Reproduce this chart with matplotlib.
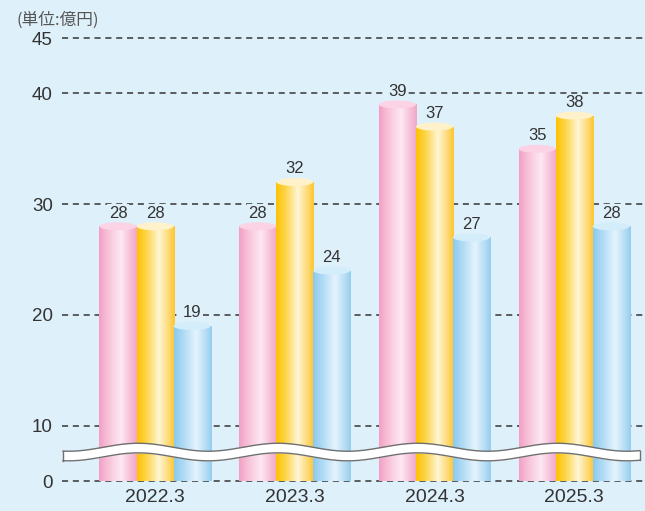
import numpy as np
import matplotlib
matplotlib.use("Agg")
import matplotlib.pyplot as plt
from matplotlib.patches import Ellipse
from matplotlib.colors import to_rgb

# data
years = ["2022.3", "2023.3", "2024.3", "2025.3"]
series_a = [28, 28, 39, 35]   # pink
series_b = [28, 32, 37, 38]   # yellow
series_c = [19, 24, 27, 28]   # blue
tick_vals = [0, 10, 20, 30, 40, 45]
unit_text = "(単位:億円)"

# the "0" line sits at 5 because of the axis break
base = 5
def pos(v):
    return base if v == 0 else v

bg = "#def0fa"
text_col = "#333333"
plt.rcParams['font.family'] = ['Liberation Sans', 'Noto Sans CJK JP', 'DejaVu Sans']
plt.rcParams['lines.scale_dashes'] = False

# colour stops (left edge, highlight, right edge) and top face
styles = [
    (["#f2a0c4", "#f8c3da", "#fde9f2", "#f6bcd6", "#f2a8c8"], "#fbd3e4"),
    (["#fcc200", "#fdd44a", "#fff6d4", "#fed770", "#fcc62a"], "#fff1c9"),
    (["#8ac9ee", "#b0dbf4", "#e4f4fd", "#b5dcf4", "#94cdef"], "#d4edfb"),
]

fig = plt.figure(figsize=(6.45, 5.11), dpi=100, facecolor=bg)
ax = fig.add_axes([0.0961, 0.0434, 0.9039, 0.9147])
ax.set_facecolor(bg)
ax.set_xlim(-0.666, 3.507)
ax.set_ylim(4.3, 46.5)

for v in tick_vals:
    ax.axhline(pos(v), color="#444444", lw=1.2, dashes=(4.4, 3.4), zorder=1)

x = np.arange(len(years))
w = 0.265
px_per_unit = 11.075

def make_grad(stops):
    cols = np.array([to_rgb(c) for c in stops])
    t = np.linspace(0, 1, 200)
    st = np.array([0, 0.25, 0.58, 0.85, 1.0])
    arr = np.stack([np.interp(t, st, cols[:, k]) for k in range(3)], axis=-1)
    return arr[np.newaxis, :, :]

for k, vals in enumerate([series_a, series_b, series_c]):
    stops, top_col = styles[k]
    grad = make_grad(stops)
    xs = x + (k - 1) * w
    heights = [v - base for v in vals]
    bars = ax.bar(xs, heights, width=w, bottom=base, color="none", edgecolor="none", zorder=2)
    for bar, v in zip(bars, vals):
        x0 = bar.get_x()
        im = ax.imshow(grad, extent=(x0, x0 + bar.get_width(), base, v), aspect="auto",
                       interpolation="bilinear", zorder=2)
        im.set_clip_path(bar)
        ax.add_patch(Ellipse((x0 + bar.get_width() / 2, v), bar.get_width(), 8 / px_per_unit,
                             facecolor=top_col, edgecolor="none", zorder=3))
        ax.annotate(str(v), (x0 + bar.get_width() / 2, v), xytext=(0, 9.5),
                    textcoords="offset points", ha="center", va="center",
                    fontsize=12, color=text_col, zorder=5,
                    bbox=dict(boxstyle="square,pad=0.08", fc=bg, ec="none"))

# axis-break wave band
wx = np.linspace(-0.659, 3.47, 600)
yc = base + 2.62 + 0.36 * np.cos(2 * np.pi * (wx + 0.12))
half = 4.8 / px_per_unit
ax.fill_between(wx, yc - half, yc + half, color="white", zorder=4, lw=0)
ax.plot(wx, yc + half, color="#707070", lw=1.0, zorder=4)
ax.plot(wx, yc - half, color="#707070", lw=1.0, zorder=4)
ax.plot([wx[0], wx[0]], [yc[0] - half, yc[0] + half], color="#707070", lw=1.0, zorder=4)
ax.plot([wx[-1], wx[-1]], [yc[-1] - half, yc[-1] + half], color="#707070", lw=1.0, zorder=4)

ax.set_yticks([pos(v) for v in tick_vals])
ax.set_yticklabels([str(v) for v in tick_vals], fontsize=13.5, color=text_col)
ax.set_xticks(x)
ax.set_xticklabels(years, fontsize=14, color=text_col)
ax.tick_params(axis="y", length=0, pad=6.5)
ax.tick_params(axis="x", length=0, pad=0)
for s in ax.spines.values():
    s.set_visible(False)

fig.text(17 / 645, 1 - 20 / 511, unit_text, fontsize=12, color="#555555",
         ha="left", va="center", family=['Noto Sans CJK JP', 'DejaVu Sans'])

fig.savefig("out.png", dpi=100, facecolor=bg)
